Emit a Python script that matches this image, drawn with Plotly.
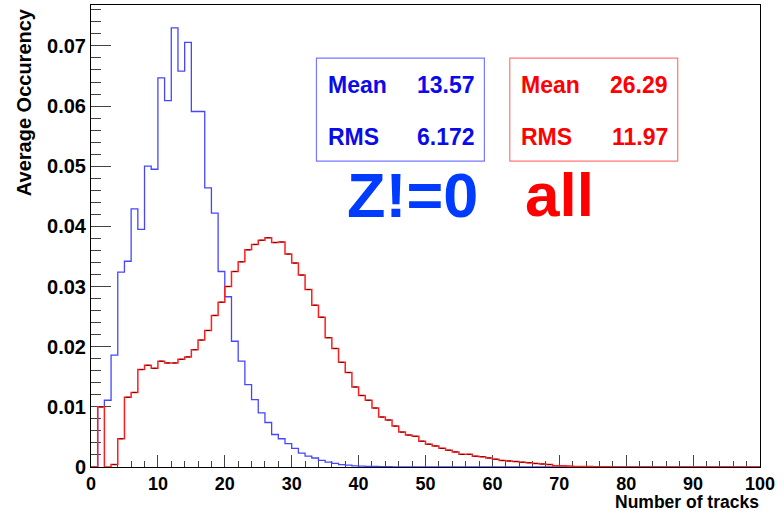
import plotly.graph_objects as go

# ---- data (bin contents, 1-unit bins from 0 to 100) ----
bin_edges = list(range(0, 101))

blue_values = [
    0.0000, 0.0100, 0.0111, 0.0186, 0.0324, 0.0342, 0.0429, 0.0395, 0.0500, 0.0495,
    0.0647, 0.0609, 0.0730, 0.0658, 0.0706, 0.0591, 0.0591, 0.0464, 0.0422, 0.0325,
    0.0283, 0.0209, 0.0176, 0.0137, 0.0112, 0.0090, 0.0074, 0.0054, 0.0047, 0.0039,
    0.0031, 0.0023, 0.0018, 0.0015, 0.0011, 0.0008, 0.0006, 0.0004, 0.0003, 0.0002,
    0.00015, 0.0001, 0.0001, 0.00005, 0.00005, 0, 0, 0, 0, 0,
    0, 0, 0, 0, 0, 0, 0, 0, 0, 0,
    0, 0, 0, 0, 0, 0, 0, 0, 0, 0,
    0, 0, 0, 0, 0, 0, 0, 0, 0, 0,
    0, 0, 0, 0, 0, 0, 0, 0, 0, 0,
    0, 0, 0, 0, 0, 0, 0, 0, 0, 0,
]

red_values = [
    0.0000, 0.0100, 0.0000, 0.0004, 0.0047, 0.0116, 0.0124, 0.0162, 0.0169, 0.0164,
    0.0176, 0.0173, 0.0173, 0.0179, 0.0183, 0.0195, 0.0211, 0.0227, 0.0252, 0.0274,
    0.0300, 0.0325, 0.0341, 0.0361, 0.0370, 0.0377, 0.0381, 0.0373, 0.0374, 0.0354,
    0.0339, 0.0319, 0.0295, 0.0269, 0.0249, 0.0215, 0.0197, 0.0174, 0.0157, 0.0133,
    0.0119, 0.0111, 0.0098, 0.0083, 0.0078, 0.0068, 0.0058, 0.0053, 0.0051, 0.0043,
    0.0038, 0.0035, 0.0031, 0.0028, 0.0025, 0.0021, 0.0021, 0.0018, 0.0017, 0.0015,
    0.0013, 0.0011, 0.0010, 0.0009, 0.0008, 0.0007, 0.0006, 0.0005, 0.0004, 0.0002,
    0.0002, 0.00015, 0.0001, 0.0001, 0.0001, 0.00005, 0.00005, 0.00005, 0, 0,
    0, 0, 0, 0, 0, 0, 0, 0, 0, 0,
    0, 0, 0, 0, 0, 0, 0, 0, 0, 0,
]

y_tick_vals = [0, 0.01, 0.02, 0.03, 0.04, 0.05, 0.06, 0.07]
y_tick_text = ["0", "0.01", "0.02", "0.03", "0.04", "0.05", "0.06", "0.07"]
x_tick_vals = [0, 10, 20, 30, 40, 50, 60, 70, 80, 90, 100]
x_tick_text = [str(v) for v in x_tick_vals]

blue_stats = {"Mean": "13.57", "RMS": "6.172"}
red_stats = {"Mean": "26.29", "RMS": "11.97"}

FONT = "Liberation Sans, Arial, Helvetica, sans-serif"
BLUE_LINE = "rgb(70,70,255)"
RED_LINE = "rgb(255,30,30)"

fig = go.Figure()

# blue histogram (Z!=0)
fig.add_trace(go.Scatter(
    x=bin_edges, y=blue_values + [blue_values[-1]],
    mode="lines", line=dict(shape="hv", color=BLUE_LINE, width=1.3),
    hoverinfo="skip", showlegend=False,
))

# red histogram (all)
fig.add_trace(go.Scatter(
    x=bin_edges, y=red_values + [red_values[-1]],
    mode="lines", line=dict(shape="hv", color=RED_LINE, width=1.5),
    hoverinfo="skip", showlegend=False,
))

# small error markers at bin centres on the red histogram
centers = [e + 0.5 for e in bin_edges[:-1]]
rx = [c for c, v in zip(centers, red_values) if v > 0.0003]
ry = [v for v in red_values if v > 0.0003]
fig.add_trace(go.Scatter(
    x=rx, y=ry, mode="markers",
    marker=dict(symbol="line-ew", size=3, line=dict(color="rgb(110,0,0)", width=1)),
    hoverinfo="skip", showlegend=False,
))

fig.update_layout(
    width=784, height=513,
    margin=dict(l=91, r=24, t=5, b=46),
    paper_bgcolor="white", plot_bgcolor="white",
    font=dict(family=FONT, color="black"),
    showlegend=False,
    xaxis=dict(
        range=[0, 100], showgrid=False, zeroline=False,
        showline=True, linecolor="black", linewidth=1, mirror=True,
        ticks="inside", ticklen=12, tickcolor="#444", tickwidth=1,
        tickvals=x_tick_vals, ticktext=x_tick_text,
        tickfont=dict(size=18, family=FONT, weight="bold"),
        minor=dict(ticks="inside", ticklen=6, dtick=2, tick0=0, tickcolor="#444", showgrid=False),
        layer="below traces",
    ),
    yaxis=dict(
        range=[0, 0.0768], showgrid=False, zeroline=False,
        showline=True, linecolor="black", linewidth=1, mirror=True,
        ticks="inside", ticklen=20, tickcolor="#444", tickwidth=1,
        tickvals=y_tick_vals, ticktext=y_tick_text,
        tickfont=dict(size=20, family=FONT, weight="bold"),
        minor=dict(ticks="inside", ticklen=10, dtick=0.002, tick0=0, tickcolor="#444", showgrid=False),
        layer="below traces",
    ),
)

# stat boxes
def stat_box(x0, x1, color, border, stats, label_x, value_x):
    fig.add_shape(type="rect", xref="paper", yref="paper",
                  x0=x0, x1=x1, y0=0.662, y1=0.885,
                  line=dict(color=border, width=1.2), fillcolor="white", layer="above")
    for (k, v), yy in zip(stats.items(), [0.827, 0.714]):
        fig.add_annotation(xref="paper", yref="paper", x=label_x, y=yy, text=k,
                           showarrow=False, xanchor="left", yanchor="middle",
                           font=dict(size=23, color=color, family=FONT, weight="bold"))
        fig.add_annotation(xref="paper", yref="paper", x=value_x, y=yy, text=v,
                           showarrow=False, xanchor="right", yanchor="middle",
                           font=dict(size=23, color=color, family=FONT, weight="bold"))

stat_box(0.337, 0.588, "rgb(10,10,235)", "rgb(120,120,255)", blue_stats, 0.352, 0.577)
stat_box(0.626, 0.877, "rgb(255,0,0)", "rgb(255,120,120)", red_stats, 0.640, 0.866)

# big labels
fig.add_annotation(xref="paper", yref="paper", x=0.4806, y=0.589, text="Z!=0",
                   showarrow=False, xanchor="center", yanchor="middle",
                   font=dict(size=63, color="rgb(0,60,255)", family=FONT, weight="bold"))
fig.add_annotation(xref="paper", yref="paper", x=0.701, y=0.589, text="all",
                   showarrow=False, xanchor="center", yanchor="middle",
                   font=dict(size=62, color="rgb(255,0,0)", family=FONT, weight="bold"))

# axis titles
fig.add_annotation(xref="paper", yref="paper", x=-0.099, y=0.997, text="Average Occurency",
                   textangle=-90, showarrow=False, xanchor="center", yanchor="top",
                   font=dict(size=20, color="black", family=FONT, weight="bold"))
fig.add_annotation(xref="paper", yref="paper", x=1.0, y=-0.0996, text="Number of tracks",
                   showarrow=False, xanchor="right", yanchor="bottom", borderpad=0,
                   font=dict(size=17.5, color="black", family=FONT, weight="bold"))

fig.write_html("out.html")
